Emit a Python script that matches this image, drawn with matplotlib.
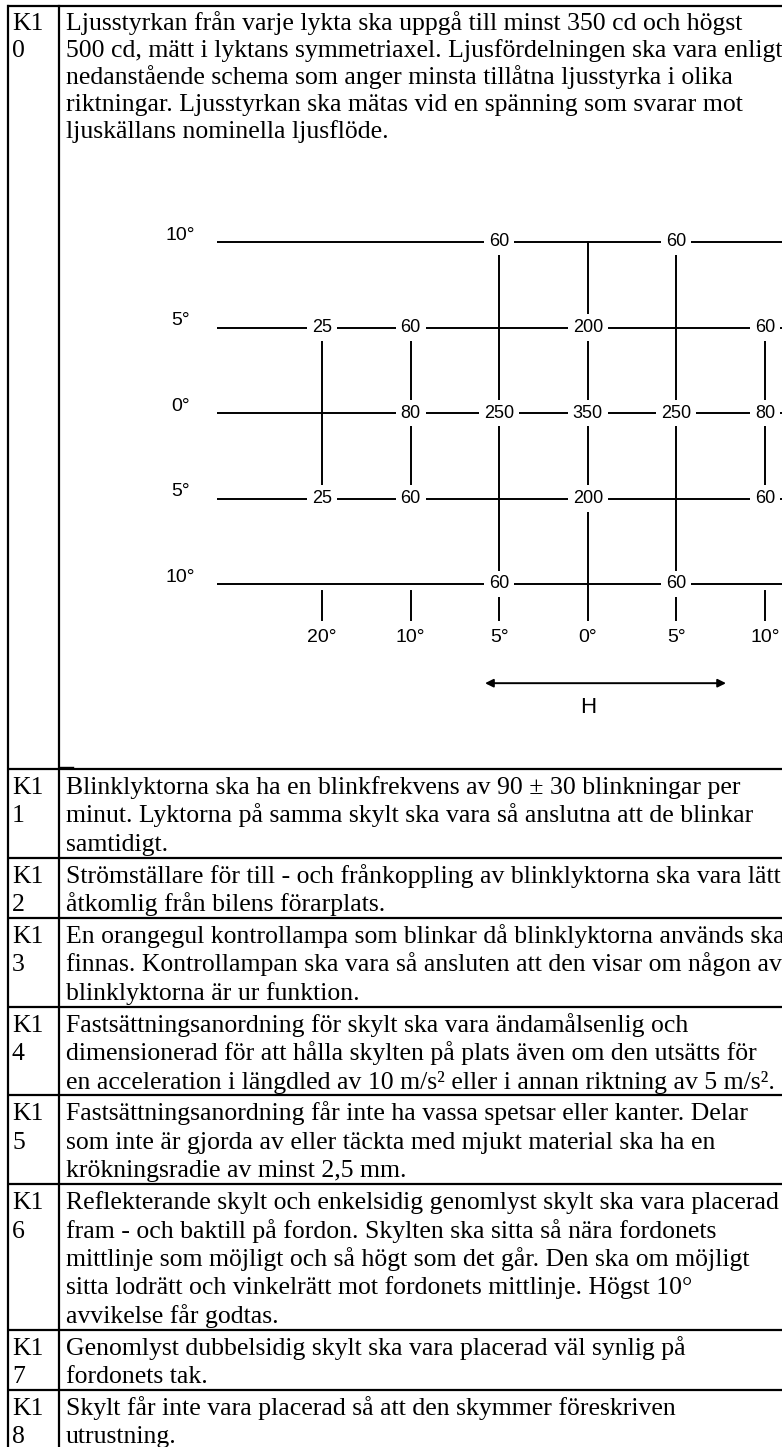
import matplotlib
matplotlib.use("Agg")
import matplotlib.pyplot as plt
from matplotlib import font_manager

# --- table content --------------------------------------------------------
row_ids = ["K1\n0", "K1\n1", "K1\n2", "K1\n3", "K1\n4", "K1\n5", "K1\n6", "K1\n7", "K1\n8"]
row_texts = [
    ["Ljusstyrkan från varje lykta ska uppgå till minst 350 cd och högst",
     "500 cd, mätt i lyktans symmetriaxel. Ljusfördelningen ska vara enligt",
     "nedanstående schema som anger minsta tillåtna ljusstyrka i olika",
     "riktningar. Ljusstyrkan ska mätas vid en spänning som svarar mot",
     "ljuskällans nominella ljusflöde."],
    ["Blinklyktorna ska ha en blinkfrekvens av 90 ± 30 blinkningar per",
     "minut. Lyktorna på samma skylt ska vara så anslutna att de blinkar",
     "samtidigt."],
    ["Strömställare för till - och frånkoppling av blinklyktorna ska vara lätt",
     "åtkomlig från bilens förarplats."],
    ["En orangegul kontrollampa som blinkar då blinklyktorna används ska",
     "finnas. Kontrollampan ska vara så ansluten att den visar om någon av",
     "blinklyktorna är ur funktion."],
    ["Fastsättningsanordning för skylt ska vara ändamålsenlig och",
     "dimensionerad för att hålla skylten på plats även om den utsätts för",
     "en acceleration i längdled av 10 m/s² eller i annan riktning av 5 m/s²."],
    ["Fastsättningsanordning får inte ha vassa spetsar eller kanter. Delar",
     "som inte är gjorda av eller täckta med mjukt material ska ha en",
     "krökningsradie av minst 2,5 mm."],
    ["Reflekterande skylt och enkelsidig genomlyst skylt ska vara placerad",
     "fram - och baktill på fordon. Skylten ska sitta så nära fordonets",
     "mittlinje som möjligt och så högt som det går. Den ska om möjligt",
     "sitta lodrätt och vinkelrätt mot fordonets mittlinje. Högst 10°",
     "avvikelse får godtas."],
    ["Genomlyst dubbelsidig skylt ska vara placerad väl synlig på",
     "fordonets tak."],
    ["Skylt får inte vara placerad så att den skymmer föreskriven",
     "utrustning."],
]

# --- light distribution schema (minimum cd) --------------------------------
h_labels = ["20°", "10°", "5°", "0°", "5°", "10°"]
v_labels = ["10°", "5°", "0°", "5°", "10°"]
cd_10up = [None, None, 60, None, 60, None]
cd_5up = [25, 60, None, 200, None, 60]
cd_0 = [None, 80, 250, 350, 250, 80]
cd_5down = [25, 60, None, 200, None, 60]
cd_10down = [None, None, 60, None, 60, None]
cd_grid = [cd_10up, cd_5up, cd_0, cd_5down, cd_10down]

W, H = 782, 1447
SERIF = ["Liberation Serif", "DejaVu Serif"]

# narrow sans for the scanned schema, if installed
try:
    font_manager.findfont(font_manager.FontProperties(family="Liberation Sans Narrow"),
                          fallback_to_default=False)
    NARROW, num_fs = ["Liberation Sans Narrow", "DejaVu Sans"], 15.0
except ValueError:
    NARROW, num_fs = ["Liberation Sans", "DejaVu Sans"], 13.0

fig = plt.figure(figsize=(W / 100, H / 100), dpi=100)
ax = fig.add_axes([0, 0, 1, 1])
ax.set_xlim(0, W)
ax.set_ylim(H, 0)
ax.axis("off")

# table frame
top = 6
first_bottom = 769
line_h = 28.4
first_line_h = 27.0
pad = 3.5
left_x, sep_x = 8, 59
lw_border = 1.6

bounds = [top, first_bottom]
for lines in row_texts[1:]:
    bounds.append(bounds[-1] + len(lines) * line_h + pad)

for b in bounds[:-1]:
    ax.plot([left_x - 1, W], [b, b], color="black", lw=lw_border, solid_capstyle="butt")
ax.plot([left_x, left_x], [top, H], color="black", lw=lw_border)
ax.plot([sep_x, sep_x], [top, H], color="black", lw=lw_border)
ax.plot([sep_x, 73], [first_bottom - 2, first_bottom - 2], color="black", lw=1.0)

fs = 18.5
for k, (rid, lines) in enumerate(zip(row_ids, row_texts)):
    y0 = bounds[k] + (24 if k == 0 else 25)
    step = first_line_h if k == 0 else line_h
    for n, part in enumerate(rid.split("\n")):
        ax.text(12, y0 + n * step, part, family=SERIF, fontsize=fs, va="baseline")
    for n, line in enumerate(lines):
        ax.text(66, y0 + n * step, line, family=SERIF, fontsize=fs, va="baseline")

# diagram in grid-index coordinates
px_col0, px_dcol = 322, 88.6
px_row0, px_drow = 242, 85.5
dl, dr, dt, db = 150, W, 200, 760
dax = fig.add_axes([dl / W, 1 - db / H, (dr - dl) / W, (db - dt) / H])
dax.set_xlim((dl - px_col0) / px_dcol, (dr - px_col0) / px_dcol)
dax.set_ylim((db - px_row0) / px_drow, (dt - px_row0) / px_drow)
dax.axis("off")
dax.patch.set_alpha(0)

x_end = dax.get_xlim()[1]
lw_d = 1.4
for j in range(len(v_labels)):
    dax.plot([-1.18, x_end], [j, j], color="black", lw=lw_d, solid_capstyle="butt")
    dax.text(-1.6, j - 0.08, v_labels[j], family=NARROW, fontsize=num_fs + 1,
             ha="center", va="center")

stub_end = 4.42
for i in range(len(h_labels)):
    col = [row[i] for row in cd_grid]
    if col[0] is None and col[3] is not None and col[4] is None and i != 3:
        dax.plot([i, i], [1, 3], color="black", lw=lw_d)
        dax.plot([i, i], [4.08, stub_end], color="black", lw=lw_d)
    else:
        dax.plot([i, i], [0, stub_end], color="black", lw=lw_d)
    dax.text(i, 4.62, h_labels[i], family=NARROW, fontsize=num_fs + 1, ha="center", va="center")

for j, row in enumerate(cd_grid):
    for i, v in enumerate(row):
        if v is not None:
            dax.text(i, j, str(v), family=NARROW, fontsize=num_fs, ha="center", va="center",
                     zorder=5, bbox=dict(facecolor="white", edgecolor="none", pad=3.5))

dax.annotate("", xy=(1.84, 5.16), xytext=(4.56, 5.16),
             arrowprops=dict(arrowstyle="<|-|>", color="black", lw=1.4,
                             mutation_scale=12, shrinkA=0, shrinkB=0))
dax.text(3, 5.45, "H", family=NARROW, fontsize=num_fs + 3, ha="center", va="center")

fig.savefig("out.png", dpi=100)
